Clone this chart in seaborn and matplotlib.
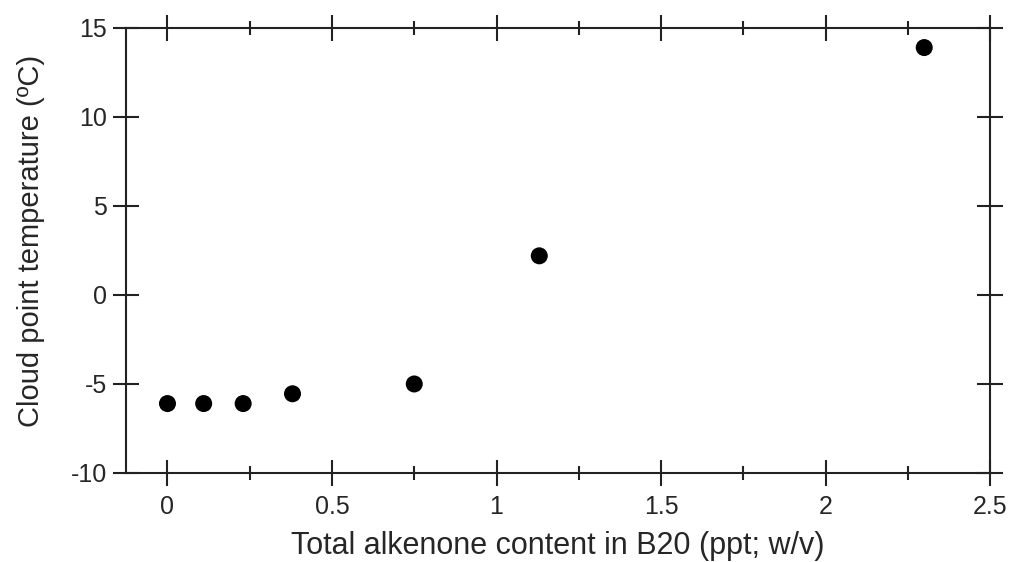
import pandas as pd
import matplotlib
matplotlib.use('Agg')
import matplotlib.pyplot as plt
import seaborn as sns
from matplotlib.ticker import MultipleLocator

# Values
alkenone_ppt = [0.0, 0.11, 0.23, 0.38, 0.75, 1.13, 2.30]
cloud_point_c = [-6.1, -6.1, -6.1, -5.55, -5.0, 2.2, 13.9]

data = pd.DataFrame({'alkenone': alkenone_ppt, 'cloud_point': cloud_point_c})

sns.set_style('ticks')
plt.rcParams['font.family'] = ['Liberation Sans', 'DejaVu Sans']
plt.rcParams['axes.unicode_minus'] = False

fig = plt.figure(figsize=(10.09, 5.62), dpi=100)
ax = fig.add_axes([0.1249, 0.1584, 0.8563, 0.7918])

sns.scatterplot(x='alkenone', y='cloud_point', data=data, color='black',
                s=150, edgecolor='none', ax=ax, zorder=3)

ax.set_xlim(-0.126, 2.5)
ax.set_ylim(-10, 15)
ax.xaxis.set_minor_locator(MultipleLocator(0.25))
ax.yaxis.set_major_locator(MultipleLocator(5))
ax.set_xticks([0, 0.5, 1, 1.5, 2, 2.5])
ax.set_xticklabels(['0', '0.5', '1', '1.5', '2', '2.5'])

for side in ['left', 'right', 'top', 'bottom']:
    ax.spines[side].set_visible(True)
    ax.spines[side].set_linewidth(1.5)
    ax.spines[side].set_color('#222222')

ax.tick_params(which='major', direction='inout', length=19, width=1.5,
               top=True, right=True, labelsize=18, color='#222222', pad=4)
ax.tick_params(axis='x', which='major', pad=6)
ax.tick_params(which='minor', direction='inout', length=9.5, width=1.5,
               top=True, bottom=True, color='#222222')
ax.tick_params(axis='y', which='minor', left=False, right=False)

ax.set_xlabel('Total alkenone content in B20 (ppt; w/v)', fontsize=22, labelpad=9)
ax.set_ylabel('Cloud point temperature (ºC)', fontsize=21, labelpad=19)
ax.yaxis.label.set_y(0.521)

fig.savefig('out.png', dpi=100)
